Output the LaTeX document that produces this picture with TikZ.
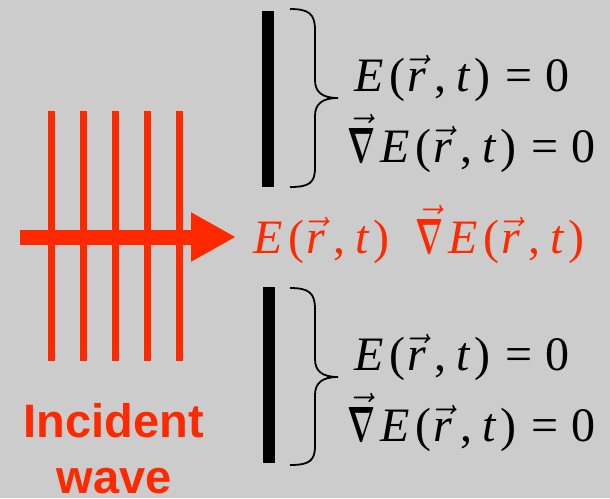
\RequirePackage{fix-cm}
\documentclass[tikz,border=0pt]{standalone}
\usepackage{fontspec}
\setmainfont{Liberation Serif}
\newfontfamily\labelfont{Liberation Sans}
\usepackage{bm}
\usepackage{graphicx}
\usetikzlibrary{arrows.meta}
\definecolor{bgc}{RGB}{204,204,204}
\definecolor{wavered}{RGB}{255,41,0}
\newcommand{\fieldE}{\textit{E}\kern6pt(\kern2pt$\vec{\textit{r}}$\kern8pt,\kern10pt\textit{t}\kern4pt)}
\newcommand{\gradsym}{$\vec{\resizebox{28pt}{34pt}{$\bm{\nabla}$}}$\kern5pt}
\newcommand{\eqzero}{\kern15pt=\kern13pt0}
\tikzset{
  eqtext/.style={anchor=base west, inner sep=0pt, font=\fontsize{48}{58}\selectfont},
  wavefront/.style={draw=wavered, line width=7pt},
  wallbar/.style={fill=black},
  bracepath/.style={draw=black, line width=1.8pt},
  labeltext/.style={text=wavered, font=\labelfont\bfseries\fontsize{47}{56}\selectfont, align=center, inner sep=0pt}
}
\begin{document}
\begin{tikzpicture}[x=1pt,y=-1pt]
\useasboundingbox[fill=bgc] (0,0) rectangle (610,498);
% wavefronts
\foreach \xx/\nm in {51/w1,83/w2,115/w3,147/w4,179/w5}{
  \coordinate (\nm t) at (\xx,111);
  \coordinate (\nm b) at (\xx,361);
  \draw[wavefront] (\nm t) -- (\nm b);
}
% propagation arrow
\coordinate (arrstart) at (20,237);
\coordinate (arrtip) at (236,237);
\draw[draw=wavered, line width=15pt, -{Triangle[length=45pt,width=46pt]}, color=wavered] (arrstart) -- (arrtip);
% walls
\fill[wallbar] (262,11) rectangle (274,187);
\fill[wallbar] (263,287) rectangle (275,463);
% braces
\draw[bracepath] (290,9) .. controls (309,9) and (315,14) .. (315,30) -- (315,80)
  .. controls (315,92) and (322,98) .. (338,98)
  .. controls (322,98) and (315,104) .. (315,116) -- (315,168)
  .. controls (315,183) and (309,187) .. (290,187);
\draw[bracepath] (290,288) .. controls (309,288) and (315,293) .. (315,309) -- (315,359)
  .. controls (315,371) and (322,377) .. (338,377)
  .. controls (322,377) and (315,383) .. (315,395) -- (315,446)
  .. controls (315,461) and (309,465) .. (290,465);
% equations
\node[eqtext] (eqa) at (354,91) {\fieldE\eqzero};
\node[eqtext] (eqb) at (347,162) {\gradsym\fieldE\eqzero};
\node[eqtext, text=wavered] (eqc) at (253,253) {\fieldE\kern26pt\gradsym\fieldE};
\node[eqtext] (eqd) at (354,370) {\fieldE\eqzero};
\node[eqtext] (eqe) at (347,441) {\gradsym\fieldE\eqzero};
% label
\node[labeltext, anchor=base] (lab) at (114,493) {Incident\\wave};
\end{tikzpicture}
\end{document}
